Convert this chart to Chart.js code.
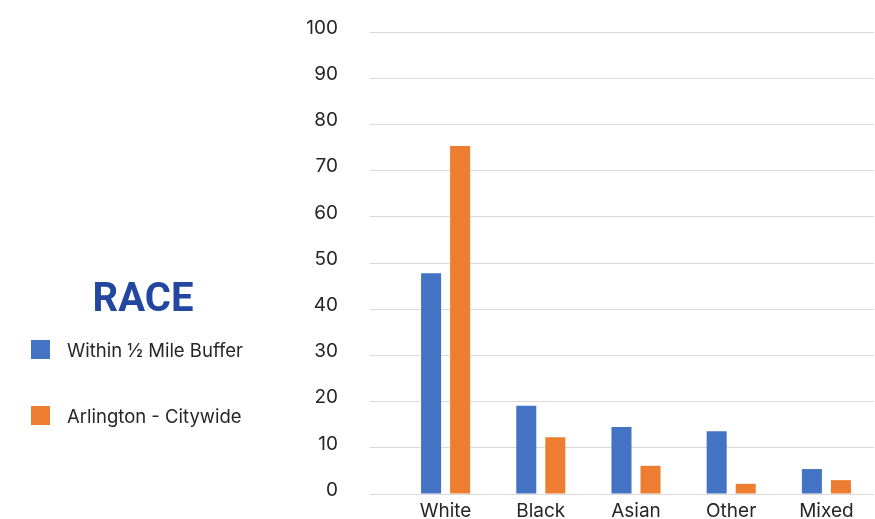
<!DOCTYPE html>
<html>
<head>
<meta charset="utf-8">
<script src="https://cdn.jsdelivr.net/npm/chart.js@4"></script>
<style>
    html, body { margin: 0; padding: 0; background: #fff; }
    #wrap { position: relative; width: 875px; height: 519px; }
    #raceChart { position: absolute; left: 0; top: 0; }
    #legend { position: absolute; left: 0; top: 0; width: 290px; height: 519px; font-family: Inter, sans-serif; }
    #legend h2 {
        position: absolute; left: 42px; width: 202px; top: 275px; margin: 0;
        text-align: center; font: bold 40px Roboto, sans-serif; color: #2346a0; line-height: 46px;
    }
    .item { position: absolute; left: 31px; height: 19px; display: flex; align-items: center; font-size: 18.5px; color: #262626; white-space: nowrap; }
    .item span.box { width: 19px; height: 19px; display: inline-block; margin-right: 17px; flex: none; }
</style>
</head>
<body>
<div id="wrap">
    <canvas id="raceChart" width="875" height="519"></canvas>
    <div id="legend">
        <h2>RACE</h2>
    </div>
</div>
<script>
const categories = ['White', 'Black', 'Asian', 'Other', 'Mixed'];
const withinBuffer = [47.8, 19.1, 14.5, 13.6, 5.4];
const citywide = [75.3, 12.3, 6.1, 2.2, 3.0];
const seriesNames = ['Within ½ Mile Buffer', 'Arlington - Citywide'];
const seriesColors = ['#4472c4', '#ed7d31'];

document.addEventListener('DOMContentLoaded', function () {
    Chart.defaults.font.family = 'Inter, sans-serif';
    Chart.defaults.color = '#262626';

    const ctx = document.getElementById('raceChart').getContext('2d');

    const raceChart = new Chart(ctx, {
        type: 'bar',
        data: {
            labels: categories,
            datasets: [{
                label: seriesNames[0],
                data: withinBuffer,
                backgroundColor: seriesColors[0]
            }, {
                label: seriesNames[1],
                data: citywide,
                backgroundColor: seriesColors[1]
            }]
        },
        options: {
            responsive: false,
            animation: false,
            categoryPercentage: 0.61,
            barPercentage: 0.69,
            layout: { padding: { top: 32, right: 1, left: 0, bottom: 0 } },
            plugins: {
                legend: { display: false },
                tooltip: { enabled: false }
            },
            scales: {
                x: {
                    grid: { display: false, drawTicks: false },
                    border: { display: false },
                    ticks: { font: { size: 19 }, padding: 6 },
                    afterFit: (scale) => { scale.height = 25; }
                },
                y: {
                    min: 0,
                    max: 100,
                    ticks: { stepSize: 10, font: { size: 19 }, padding: 32, labelOffset: -4 },
                    grid: { color: '#d9d9d9', tickLength: 28 },
                    border: { display: false },
                    afterFit: (scale) => {
                        scale.width = 398;
                        // pas de marge auto en haut/bas, la mise en page est fixée par layout.padding
                        scale.paddingTop = 0;
                        scale.paddingBottom = 0;
                    }
                }
            }
        }
    });

    // Legende HTML à gauche
    const legend = document.getElementById('legend');
    const tops = [340, 406];
    raceChart.data.datasets.forEach((ds, i) => {
        const item = document.createElement('div');
        item.className = 'item';
        item.style.top = tops[i] + 'px';
        item.innerHTML = '<span class="box" style="background:' + ds.backgroundColor + '"></span>' + ds.label;
        legend.appendChild(item);
    });
});
</script>
</body>
</html>
